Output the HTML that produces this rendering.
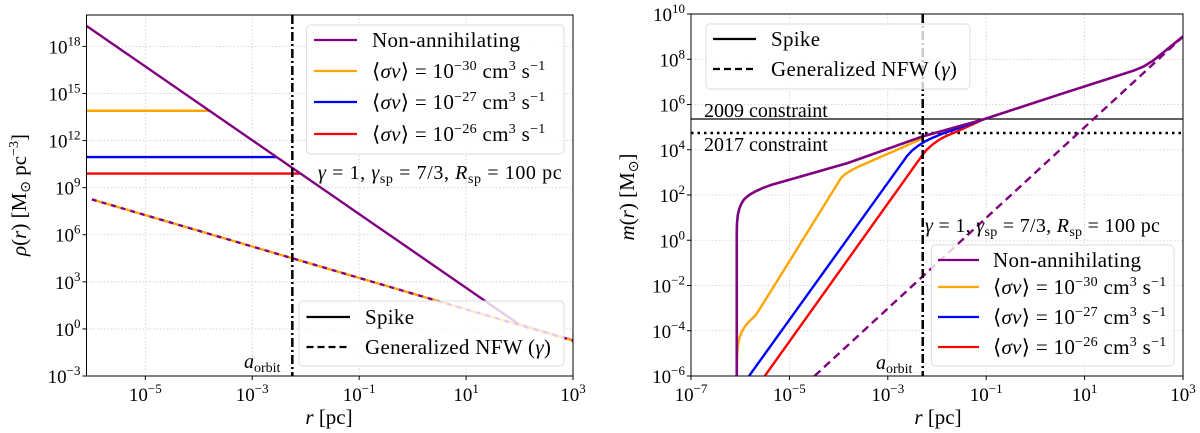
<!DOCTYPE html>
<html><head><meta charset="utf-8"><style>
body{margin:0;background:#fff}
svg{display:block}
text{font-family:"Liberation Serif",serif;fill:#000}
</style></head><body>
<svg id="fig" width="1200" height="433" viewBox="0 0 1200 433"></svg>
<script>
// ---- Left panel data (log10 r, log10 rho) ----
const leftSpikeLogR = [-6, 2, 3];
const leftSpikeLogRho = [19.07, 0.27, -0.73];
const leftNfwLogR = [-6, 3];
const leftNfwLogRho = [8.25, -0.75];
const leftPlateauNames = ['orange-plateau','blue-plateau','red-plateau'];
const leftPlateauLogRho = [13.9, 10.95, 9.9];
const leftXTicks = [-5, -3, -1, 1, 3];
const leftYTicks = [-3, 0, 3, 6, 9, 12, 15, 18];
const aOrbitLogR = -2.25;

// ---- Right panel data (log10 r, log10 m) ----
const mNonAnnR = [-6.07,-6.07,-6.065,-6.05,-6.02,-5.98,-5.93,-5.86,-5.78,-5.68,-5.55,-5.35,-5.01,-3.82,-2.29,-1.07,0.5,1.5,2.0,2.2,2.4,3];
const mNonAnnM = [-6,0.3,0.75,1.1,1.38,1.6,1.78,1.93,2.05,2.17,2.3,2.46,2.67,3.41,4.59,5.33,6.45,7.15,7.5,7.68,7.95,9.01];
const m30R = [-6.07,-6.065,-6.05,-6.02,-5.97,-5.9,-5.8,-5.68,-5.32,-3.95,-3.85,-3.72,-3.58,-3.43,-2.29];
const m30M = [-6,-5.2,-4.7,-4.35,-4.05,-3.8,-3.55,-3.3,-2.05,2.75,2.95,3.12,3.27,3.41,4.5];
const m27R = [-5.82,-2.6,-2.5,-2.38,-2.25,-2.1,-1.9,-1.5,-1.07];
const m27M = [-6,3.75,3.98,4.18,4.36,4.52,4.7,5.0,5.33];
const m26R = [-5.5,-2.4,-2.3,-2.2,-2.08,-1.95,-1.8,-1.6,-1.3,-1.07];
const m26M = [-6,3.45,3.75,4.02,4.25,4.45,4.62,4.8,5.1,5.33];
const mNfwR = [-4.49, 3];
const mNfwM = [-6, 9.0];
const constraint2009 = 5.36;
const constraint2017 = 4.74;
const rightXTicks = [-7,-5,-3,-1,1,3];
const rightYTicks = [-6,-4,-2,0,2,4,6,8,10];

const NS='http://www.w3.org/2000/svg';
const svg=document.getElementById('fig');
function mk(tag,attrs,parent){const e=document.createElementNS(NS,tag);for(const k in attrs)e.setAttribute(k,attrs[k]);(parent||svg).appendChild(e);return e;}

function axes(x0,x1,y0,y1,xmin,xmax,ymin,ymax){
  return {x:v=>x0+(v-xmin)/(xmax-xmin)*(x1-x0), y:v=>y1-(v-ymin)/(ymax-ymin)*(y1-y0)};
}
function poly(ax,xs,ys,attrs,name){
  const p=xs.map((v,i)=>ax.x(v).toFixed(2)+','+ax.y(ys[i]).toFixed(2)).join(' ');
  const e=mk('polyline',Object.assign({points:p,fill:'none','stroke-linejoin':'round'},attrs));
  
  
  return e;
}
function powLabel(x,y,exp,anchor,name){
  const t=mk('text',{x:x,y:y,'font-size':19,'text-anchor':anchor});
  
  
  t.innerHTML='10<tspan dy="-8" font-size="13">'+(exp<0?'\u2212'+(-exp):exp)+'</tspan>';
  return t;
}
function frame(ax,X0,X1,Y0,Y1,xt,yt,clipId,name){
  const g=mk('g',{});
  
  
  xt.forEach(v=>{const X=ax.x(v);if(X>X0+1&&X<X1-1)mk('line',{x1:X,x2:X,y1:Y0,y2:Y1,stroke:'#ccc','stroke-width':0.8,'stroke-dasharray':'1.5,2'},g);});
  yt.forEach(v=>{const Y=ax.y(v);if(Y>Y0+1&&Y<Y1-1)mk('line',{x1:X0,x2:X1,y1:Y,y2:Y,stroke:'#ccc','stroke-width':0.8,'stroke-dasharray':'1.5,2'},g);});
  const cp=mk('clipPath',{id:clipId});mk('rect',{x:X0,y:Y0,width:X1-X0,height:Y1-Y0},cp);
  xt.forEach(v=>{const X=ax.x(v);mk('line',{x1:X,x2:X,y1:Y1,y2:Y1+4,stroke:'#000'});powLabel(X,Y1+25,v,'middle',name+'-x-tick-'+v);});
  yt.forEach(v=>{const Y=ax.y(v);mk('line',{x1:X0-4,x2:X0,y1:Y,y2:Y,stroke:'#000'});powLabel(X0-6,Y+7,v,'end',name+'-y-tick-'+v);});
}
function border(X0,X1,Y0,Y1,name){
  const r=mk('rect',{x:X0,y:Y0,width:X1-X0,height:Y1-Y0,fill:'none',stroke:'#000','stroke-width':1});
  
  
}
function legend(x,y,w,h,items,lineX0,lineX1,textX,name){
  const g=mk('g',{});
  
  
  mk('rect',{x:x,y:y,width:w,height:h,rx:4,fill:'rgba(255,255,255,0.8)',stroke:'#ddd'},g);
  items.forEach(it=>{
    const l=mk('line',{x1:lineX0,x2:lineX1,y1:it.y,y2:it.y,stroke:it.c,'stroke-width':2.2},g);
    if(it.dash)l.setAttribute('stroke-dasharray',it.dash);
    const t=mk('text',{x:textX,y:it.y+7,'font-size':21,'letter-spacing':0.3},g);
    
    
    t.innerHTML=it.t;
  });
}
const sv='\u27E8<tspan font-style="italic">\u03C3v</tspan>\u27E9 = 10<tspan dy="-8" font-size="14">';
const svEnd='</tspan><tspan dy="8"> cm</tspan><tspan dy="-8" font-size="14">3</tspan><tspan dy="8"> s</tspan><tspan dy="-8" font-size="14">\u22121</tspan>';
const annot='<tspan font-style="italic">\u03B3</tspan> = 1,  <tspan font-style="italic">\u03B3</tspan><tspan dy="4" font-size="14">sp</tspan><tspan dy="-4"> = 7/3,  </tspan><tspan font-style="italic">R</tspan><tspan dy="4" font-size="14">sp</tspan><tspan dy="-4"> = 100 pc</tspan>';

// ===== LEFT =====
(function(){
  const X0=86.5,X1=573,Y0=15,Y1=376;
  const ax=axes(X0,X1,Y0,Y1,-6.1,3,-3,20);
  frame(ax,X0,X1,Y0,Y1,leftXTicks,leftYTicks,'clipL','left');
  const g=mk('g',{'clip-path':'url(#clipL)'});
  const cols=['#FFA500','#0000FF','#FF0000'];
  const slope=(leftSpikeLogRho[1]-leftSpikeLogRho[0])/(leftSpikeLogR[1]-leftSpikeLogR[0]);
  leftPlateauLogRho.forEach((v,i)=>{
    const rEnd=leftSpikeLogR[0]+(v-leftSpikeLogRho[0])/slope;
    const e=poly(ax,[-6.1,rEnd],[v,v],{stroke:cols[i],'stroke-width':2.4},leftPlateauNames[i]);g.appendChild(e);
  });
  const ext=[-6.1].concat(leftSpikeLogR.slice(1));
  const extV=[leftSpikeLogRho[0]-slope*0.1].concat(leftSpikeLogRho.slice(1));
  g.appendChild(poly(ax,ext,extV,{stroke:'#800080','stroke-width':2.4},'non-annihilating-spike'));
  g.appendChild(poly(ax,leftNfwLogR,leftNfwLogRho,{stroke:'#800080','stroke-width':2.4,'stroke-dasharray':'5,5'},'nfw-purple'));
  g.appendChild(poly(ax,leftNfwLogR,leftNfwLogRho,{stroke:'#FFA500','stroke-width':2.4,'stroke-dasharray':'5,5','stroke-dashoffset':5},'nfw-orange'));
  const v=mk('line',{x1:ax.x(aOrbitLogR),x2:ax.x(aOrbitLogR),y1:Y0,y2:Y1,stroke:'#000','stroke-width':2.5,'stroke-dasharray':'9,3,2,3'});
  
  legend(306.5,25,257.5,129,[
    {y:40,c:'#800080',t:'Non-annihilating'},
    {y:71,c:'#FFA500',t:sv+'\u221230'+svEnd},
    {y:102,c:'#0000FF',t:sv+'\u221227'+svEnd},
    {y:134,c:'#FF0000',t:sv+'\u221226'+svEnd}],314,357,372,'legend-sigma-left');
  legend(299,301,265,65,[
    {y:317,c:'#000',t:'Spike'},
    {y:347,c:'#000',dash:'7,4',t:'Generalized NFW (<tspan font-style="italic">\u03B3</tspan>)'}],306.5,350,365,'legend-profile-left');
  let t=mk('text',{x:318,y:179,'font-size':20,'letter-spacing':0.6});t.innerHTML=annot;
  t=mk('text',{x:244,y:368,'font-size':20});t.innerHTML='<tspan font-style="italic">a</tspan><tspan dy="4" font-size="14">orbit</tspan>';
  border(X0,X1,Y0,Y1,'left');
  t=mk('text',{x:329,y:424,'font-size':21,'text-anchor':'middle'});t.innerHTML='<tspan font-style="italic">r</tspan> [pc]';
  t=mk('text',{x:0,y:0,'font-size':21,'text-anchor':'middle',transform:'translate(26,195) rotate(-90)'});t.innerHTML='<tspan font-style="italic">\u03C1</tspan>(<tspan font-style="italic">r</tspan>) [M<tspan dy="4" font-size="14">\u2299</tspan><tspan dy="-4"> pc</tspan><tspan dy="-8" font-size="14">\u22123</tspan><tspan dy="8">]</tspan>';
})();

// ===== RIGHT =====
(function(){
  const X0=691,X1=1183,Y0=14,Y1=376;
  const ax=axes(X0,X1,Y0,Y1,-7,3,-6,10);
  frame(ax,X0,X1,Y0,Y1,rightXTicks,rightYTicks,'clipR','right');
  const g=mk('g',{'clip-path':'url(#clipR)'});
  const h1=mk('line',{x1:X0,x2:X1,y1:ax.y(constraint2009),y2:ax.y(constraint2009),stroke:'#000','stroke-width':1.3},g);
  
  const h2=mk('line',{x1:X0,x2:X1,y1:ax.y(constraint2017),y2:ax.y(constraint2017),stroke:'#000','stroke-width':2.5,'stroke-dasharray':'2.5,4'},g);
  
  g.appendChild(poly(ax,mNfwR,mNfwM,{stroke:'#800080','stroke-width':2.4,'stroke-dasharray':'8,5'},'nfw-mass'));
  g.appendChild(poly(ax,m26R,m26M,{stroke:'#FF0000','stroke-width':2.4},'mass-sigma-26'));
  g.appendChild(poly(ax,m27R,m27M,{stroke:'#0000FF','stroke-width':2.4},'mass-sigma-27'));
  g.appendChild(poly(ax,m30R,m30M,{stroke:'#FFA500','stroke-width':2.4},'mass-sigma-30'));
  g.appendChild(poly(ax,mNonAnnR,mNonAnnM,{stroke:'#800080','stroke-width':2.6},'mass-non-annihilating'));
  const v=mk('line',{x1:ax.x(-2.29),x2:ax.x(-2.29),y1:Y0,y2:Y1,stroke:'#000','stroke-width':2.5,'stroke-dasharray':'9,3,2,3'});
  
  legend(706,24,264,65,[
    {y:39,c:'#000',t:'Spike'},
    {y:69,c:'#000',dash:'7,4',t:'Generalized NFW (<tspan font-style="italic">\u03B3</tspan>)'}],713,756,771,'legend-profile-right');
  legend(931.5,245,242.5,121,[
    {y:260,c:'#800080',t:'Non-annihilating'},
    {y:287,c:'#FFA500',t:sv+'\u221230'+svEnd},
    {y:317,c:'#0000FF',t:sv+'\u221227'+svEnd},
    {y:347,c:'#FF0000',t:sv+'\u221226'+svEnd}],938,979,993,'legend-sigma-right');
  let t=mk('text',{x:704,y:117,'font-size':20});t.textContent='2009 constraint';
  t=mk('text',{x:704,y:151,'font-size':20});t.textContent='2017 constraint';
  t=mk('text',{x:925,y:232,'font-size':20,'letter-spacing':0.3});t.innerHTML=annot;
  t=mk('text',{x:876,y:369,'font-size':20});t.innerHTML='<tspan font-style="italic">a</tspan><tspan dy="4" font-size="14">orbit</tspan>';
  border(X0,X1,Y0,Y1,'right');
  t=mk('text',{x:938,y:424,'font-size':21,'text-anchor':'middle'});t.innerHTML='<tspan font-style="italic">r</tspan> [pc]';
  t=mk('text',{x:0,y:0,'font-size':21,'text-anchor':'middle',transform:'translate(634,197) rotate(-90)'});t.innerHTML='<tspan font-style="italic">m</tspan>(<tspan font-style="italic">r</tspan>) [M<tspan dy="4" font-size="14">\u2299</tspan><tspan dy="-4">]</tspan>';
})();
</script>
</body></html>
